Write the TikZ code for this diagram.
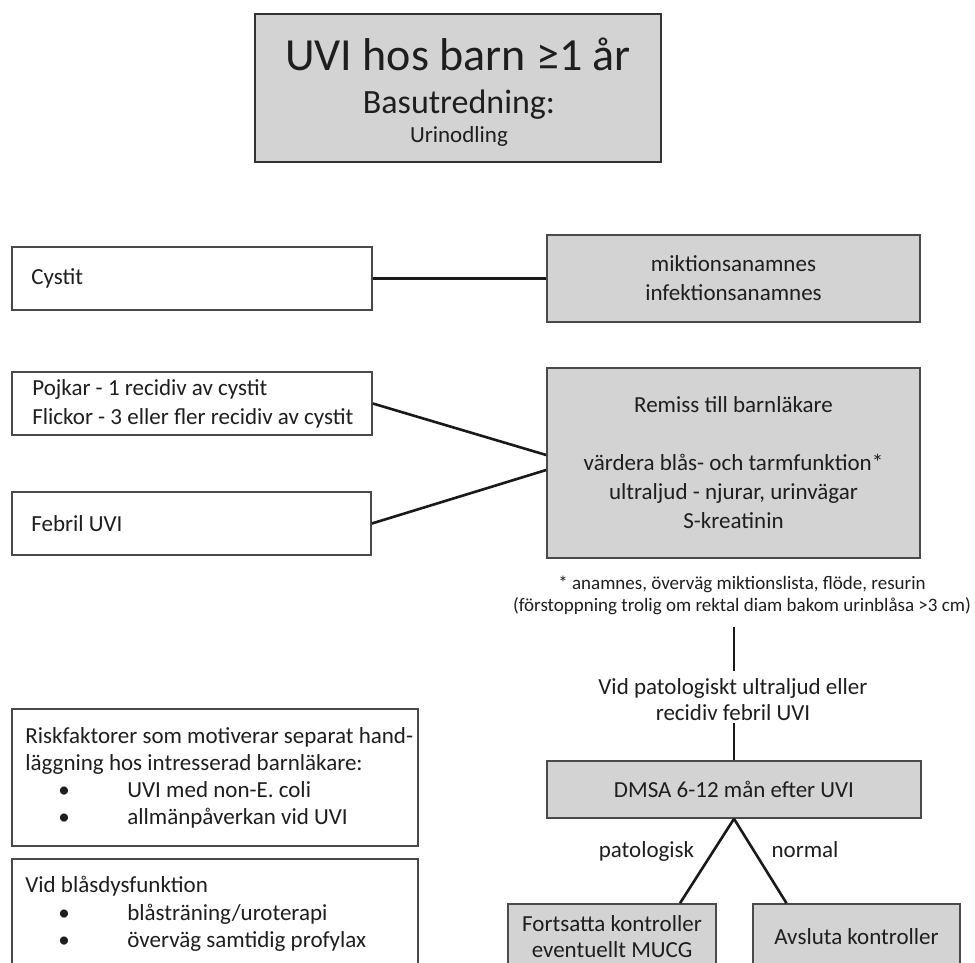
\documentclass[tikz,border=0pt]{standalone}
\usepackage{fontspec}
\setmainfont{Carlito}
\usetikzlibrary{calc}
\definecolor{boxgray}{HTML}{D3D3D3}
\definecolor{edge}{HTML}{4A4A4A}
\definecolor{ink}{HTML}{1E1E1E}
\newcommand\bul{\makebox[102pt][l]{\hspace*{33pt}\textbullet}}
\begin{document}
\begin{tikzpicture}[x=1pt,y=-1pt,
  gbox/.style={draw=edge, line width=1.6pt, fill=boxgray, inner sep=0pt, text=ink, font=\fontsize{23}{29}\selectfont, align=center},
  wbox/.style={draw=edge, line width=1.6pt, fill=white, inner sep=0pt},
  txt/.style={inner sep=0pt, text=ink, font=\fontsize{23}{29}\selectfont},
  conn/.style={draw=black!90, line width=2.6pt},
]
\clip (0,0) rectangle (975,962);
\fill[white] (0,0) rectangle (975,962);

% title
\node[gbox, draw=black!80, line width=1.8pt, minimum width=406pt, minimum height=148pt] (title) at (458,88) {};
\node[txt, anchor=base, font=\fontsize{46}{46}\selectfont] (t1) at (458,70) {UVI hos barn ≥1 år};
\node[txt, anchor=base, font=\fontsize{34}{34}\selectfont] (t2) at (459,113) {Basutredning:};
\node[txt, anchor=base, font=\fontsize{23}{23}\selectfont] (t3) at (459,142) {Urinodling};

% row 1
\node[wbox, minimum width=360pt, minimum height=63pt] (cyst) at (192,278.5) {};
\node[txt, anchor=west] (cystT) at ([xshift=20pt]cyst.west) {Cystit};
\node[gbox, minimum width=373pt, minimum height=87pt] (mikt) at (733.5,278.5) {miktionsanamnes\\infektionsanamnes};

% row 2
\node[wbox, minimum width=360pt, minimum height=63pt] (poj) at (192,403.5) {};
\node[txt, anchor=west, align=left] (pojT) at ([xshift=21pt]poj.west) {Pojkar - 1 recidiv av cystit\\Flickor - 3 eller fler recidiv av cystit};
\node[wbox, minimum width=359pt, minimum height=63pt] (feb) at (191.5,523.5) {};
\node[txt, anchor=west] (febT) at ([xshift=20pt]feb.west) {Febril UVI};
\node[gbox, minimum width=373pt, minimum height=190pt] (rem) at (733.5,463) {Remiss till barnläkare\\[29pt]värdera blås- och tarmfunktion*\\ultraljud - njurar, urinvägar\\S-kreatinin};

% footnote and condition
\node[txt, font=\fontsize{19}{22}\selectfont, align=center] (foot) at (742,595) {* anamnes, överväg miktionslista, flöde, resurin\\(förstoppning trolig om rektal diam bakom urinblåsa >3 cm)};
\node[txt, font=\fontsize{23}{26}\selectfont, align=center] (vid) at (733,700) {Vid patologiskt ultraljud eller\\recidiv febril UVI};

% DMSA and outcomes
\node[gbox, minimum width=374pt, minimum height=57pt] (dmsa) at (734,789.5) {DMSA 6-12 mån efter UVI};
\node[gbox, font=\fontsize{23}{26}\selectfont, minimum width=208pt, minimum height=66pt] (fort) at (612,937) {Fortsatta kontroller\\eventuellt MUCG};
\node[gbox, minimum width=207pt, minimum height=66pt] (avs) at (856.5,937) {Avsluta kontroller};
\node[txt, anchor=base] (pat) at (646.5,857) {patologisk};
\node[txt, anchor=base] (norm) at (805,857) {normal};

% left info boxes
\node[wbox, minimum width=406pt, minimum height=137pt] (risk) at (215,777.5) {};
\node[txt, anchor=west, align=left, font=\fontsize{23}{27}\selectfont] (riskT) at ([xshift=14pt]risk.west) {Riskfaktorer som motiverar separat hand-\\läggning hos intresserad barnläkare:\\\bul UVI med non-E. coli\\\bul allmänpåverkan vid UVI};
\node[wbox, minimum width=406pt, minimum height=110pt] (vidb) at (215,914) {};
\node[txt, anchor=west, align=left, font=\fontsize{23}{27.5}\selectfont] (vidbT) at ([xshift=14pt]vidb.west) {Vid blåsdysfunktion\\\bul blåsträning/uroterapi\\\bul överväg samtidig profylax};

% connectors
\draw[conn] (cyst.east) -- (cyst.east -| mikt.west);
\draw[conn] (poj.east) -- ([yshift=8pt]rem.west);
\draw[conn] (feb.east) -- ([yshift=-7pt]rem.west);
\draw[conn] ([yshift=-12pt]foot.south -| dmsa.north) -- ([yshift=8pt]vid.north -| dmsa.north);
\draw[conn] ([yshift=-2pt]vid.south -| dmsa.north) -- (dmsa.north);
\draw[conn] (dmsa.south) -- ([xshift=68pt]fort.north);
\draw[conn] (dmsa.south) -- ([xshift=-70pt]avs.north);
\end{tikzpicture}
\end{document}
